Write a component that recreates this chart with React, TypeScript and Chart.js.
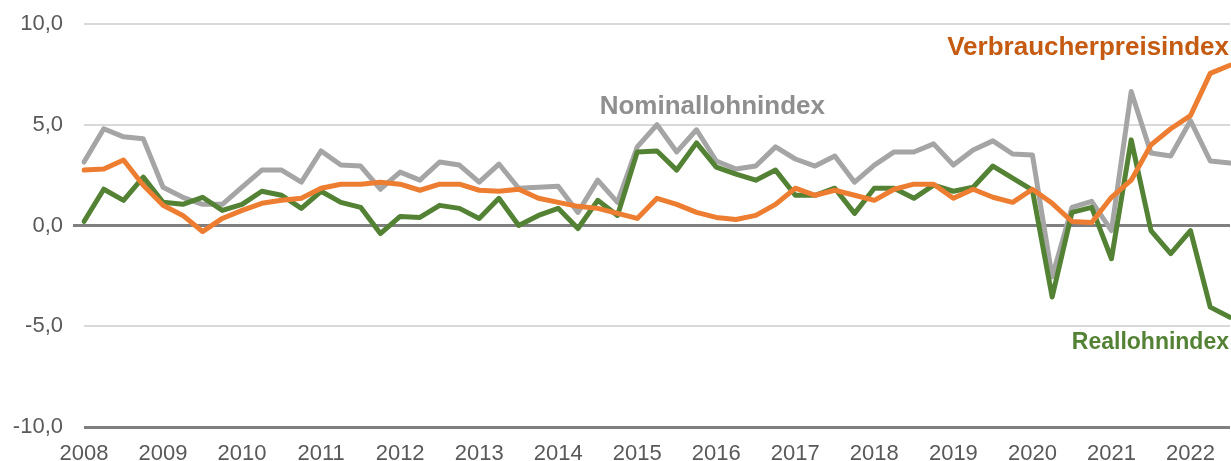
import React, { useEffect, useRef } from "react";
import { Chart, registerables } from "chart.js";

Chart.register(...registerables);

const years = [2008, 2009, 2010, 2011, 2012, 2013, 2014, 2015, 2016, 2017, 2018, 2019, 2020, 2021, 2022];
const quarters: string[] = [];
years.forEach((y) => {
  for (let q = 1; q <= 4; q++) {
    if (y === 2022 && q > 3) break;
    quarters.push(`${y}Q${q}`);
  }
});

const nominallohnindex = [
  3.15, 4.8, 4.4, 4.3, 1.9, 1.4, 1.05, 1.05,
  1.9, 2.75, 2.75, 2.15, 3.7, 3.0, 2.95, 1.8,
  2.65, 2.25, 3.15, 3.0, 2.15, 3.05, 1.85, 1.9,
  1.95, 0.65, 2.25, 1.15, 3.9, 5.0, 3.65, 4.75,
  3.2, 2.8, 2.95, 3.9, 3.3, 2.95, 3.45, 2.15,
  3.0, 3.65, 3.65, 4.05, 3.0, 3.75, 4.2, 3.55,
  3.5, -2.55, 0.9, 1.2, -0.25, 6.65, 3.6, 3.45,
  5.2, 3.2, 3.1,
];

const reallohnindex = [
  0.2, 1.8, 1.25, 2.4, 1.15, 1.05, 1.4, 0.75,
  1.05, 1.7, 1.5, 0.85, 1.7, 1.15, 0.9, -0.4,
  0.45, 0.4, 1.0, 0.85, 0.35, 1.35, 0.0, 0.5,
  0.85, -0.15, 1.25, 0.5, 3.65, 3.7, 2.75, 4.1,
  2.9, 2.55, 2.25, 2.75, 1.5, 1.5, 1.85, 0.6,
  1.85, 1.85, 1.35, 2.0, 1.7, 1.9, 2.95, 2.35,
  1.75, -3.55, 0.65, 0.9, -1.65, 4.25, -0.25, -1.4,
  -0.25, -4.05, -4.55,
];

const verbraucherpreisindex = [
  2.75, 2.8, 3.25, 2.0, 1.0, 0.5, -0.3, 0.35,
  0.75, 1.1, 1.25, 1.35, 1.85, 2.05, 2.05, 2.15,
  2.05, 1.75, 2.05, 2.05, 1.75, 1.7, 1.8, 1.35,
  1.15, 0.95, 0.85, 0.6, 0.35, 1.35, 1.05, 0.65,
  0.4, 0.3, 0.5, 1.05, 1.85, 1.5, 1.75, 1.5,
  1.25, 1.8, 2.05, 2.05, 1.35, 1.8, 1.4, 1.15,
  1.8, 1.1, 0.2, 0.15, 1.4, 2.25, 4.0, 4.8,
  5.45, 7.55, 7.95,
];

const yTicks = [-10, -5, 0, 5, 10];

const seriesLabels = [
  { text: "Verbraucherpreisindex", color: "#C55A11", size: 26, x: "right", y: 8.8 },
  { text: "Nominallohnindex", color: "#8F8F8F", size: 26, x: 31.8, y: 5.9 },
  { text: "Reallohnindex", color: "#548235", size: 23, x: "right", y: -5.8 },
];

const labelPlugin = {
  id: "seriesLabels",
  afterDatasetsDraw(chart: any) {
    const { ctx, scales, chartArea } = chart;
    ctx.save();
    ctx.textBaseline = "middle";
    seriesLabels.forEach((l) => {
      ctx.font = `bold ${l.size}px "Liberation Sans", Arial, sans-serif`;
      ctx.fillStyle = l.color;
      const y = scales.y.getPixelForValue(l.y);
      if (l.x === "right") {
        ctx.textAlign = "right";
        ctx.fillText(l.text, chartArea.right - 1, y);
      } else {
        ctx.textAlign = "center";
        ctx.fillText(l.text, scales.x.getPixelForValue(l.x as number), y);
      }
    });
    ctx.restore();
  },
};

export default function App() {
  const ref = useRef<HTMLCanvasElement | null>(null);

  useEffect(() => {
    document.body.style.margin = "0";
    if (!ref.current) return;
    const chart = new Chart(ref.current, {
      type: "line",
      data: {
        labels: quarters,
        datasets: [
          {
            label: "Verbraucherpreisindex",
            data: verbraucherpreisindex,
            borderColor: "#ED7D31",
            borderWidth: 5,
            pointRadius: 0,
            tension: 0,
            borderJoinStyle: "round",
            borderCapStyle: "round",
          },
          {
            label: "Reallohnindex",
            data: reallohnindex,
            borderColor: "#548235",
            borderWidth: 5,
            pointRadius: 0,
            tension: 0,
            borderJoinStyle: "round",
            borderCapStyle: "round",
          },
          {
            label: "Nominallohnindex",
            data: nominallohnindex,
            borderColor: "#A5A5A5",
            borderWidth: 5,
            pointRadius: 0,
            tension: 0,
            borderJoinStyle: "round",
            borderCapStyle: "round",
          },
        ],
      },
      options: {
        animation: false,
        responsive: true,
        maintainAspectRatio: false,
        layout: { padding: { top: 24, right: 1, left: 0, bottom: 0 } },
        plugins: {
          legend: { display: false },
          tooltip: { enabled: false },
        },
        scales: {
          x: {
            type: "category",
            offset: false,
            grid: { display: false, drawTicks: false },
            border: { display: false },
            ticks: {
              autoSkip: false,
              maxRotation: 0,
              padding: 14,
              color: "#595959",
              font: { family: '"Liberation Sans", Arial, sans-serif', size: 22 },
              callback: function (this: any, val: any) {
                const lab = String(this.getLabelForValue(val));
                return lab.endsWith("Q1") ? lab.slice(0, 4) : "";
              },
            },
            afterFit: (scale: any) => {
              scale.height = 34;
              scale.paddingRight = 0;
              scale.paddingLeft = 0;
            },
          },
          y: {
            min: -10,
            max: 10,
            afterBuildTicks: (scale: any) => {
              scale.ticks = yTicks.map((v) => ({ value: v }));
            },
            grid: {
              color: (c: any) => (c.tick && (c.tick.value === 0 || c.tick.value === -10) ? "#7F7F7F" : "#D9D9D9"),
              lineWidth: (c: any) => (c.tick && (c.tick.value === 0 || c.tick.value === -10) ? 3 : 2),
              tickColor: (c: any) => (c.tick && c.tick.value === 0 ? "#7F7F7F" : "rgba(0,0,0,0)"),
              tickLength: 11,
            },
            border: { display: false },
            ticks: {
              padding: 10,
              color: "#595959",
              font: { family: '"Liberation Sans", Arial, sans-serif', size: 22 },
              callback: (v: any) => Number(v).toFixed(1).replace(".", ","),
            },
            afterFit: (scale: any) => {
              scale.width = 84;
            },
          },
        },
      },
      plugins: [labelPlugin],
    });
    return () => chart.destroy();
  }, []);

  return (
    <div style={{ position: "relative", width: 1231, height: 461 }}>
      <canvas ref={ref} />
    </div>
  );
}
